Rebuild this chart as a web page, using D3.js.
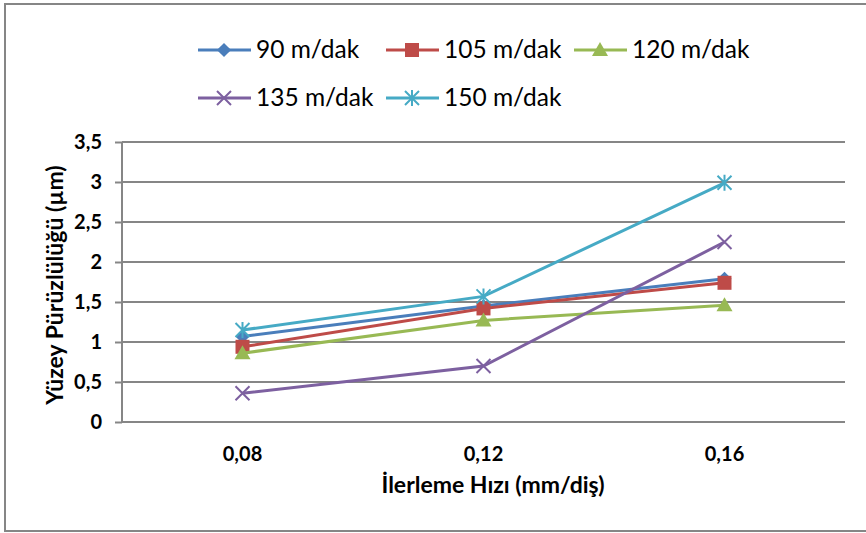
<!DOCTYPE html>
<html>
<head>
<meta charset="utf-8">
<script src="https://cdn.jsdelivr.net/npm/d3@7"></script>
<style>
  body { margin: 0; background: #fff; }
  svg { display: block; font-family: Lato, "Open Sans", sans-serif; }
</style>
</head>
<body>
<svg id="chart" width="866" height="533"></svg>
<script>
// feed rates (x categories)
var categories = ["0,08", "0,12", "0,16"];
var seriesNames = ["90 m/dak", "105 m/dak", "120 m/dak", "135 m/dak", "150 m/dak"];
var s90  = [1.07, 1.45, 1.79];
var s105 = [0.94, 1.42, 1.74];
var s120 = [0.86, 1.27, 1.46];
var s135 = [0.36, 0.70, 2.25];
var s150 = [1.15, 1.57, 2.99];
var yTicks = [0, 0.5, 1, 1.5, 2, 2.5, 3, 3.5];

var colors = ["#4a7ebb", "#be4b48", "#98b954", "#7d60a0", "#46aac5"];
var markers = ["diamond", "square", "triangle", "x", "star"];
var values = [s90, s105, s120, s135, s150];

var svg = d3.select("#chart");

// outer frame
svg.append("rect")
  .attr("x", 5).attr("y", 4).attr("width", 900).attr("height", 527)
  .attr("fill", "none").attr("stroke", "#868686").attr("stroke-width", 2);

var plotL = 122, plotR = 845, plotT = 142, plotB = 422;

var x = d3.scaleBand().domain(categories).range([plotL, plotR]);
var y = d3.scaleLinear().domain([0, 3.5]).range([plotB, plotT]);

// gridlines
svg.append("g")
  .selectAll("line")
  .data(yTicks.slice(1))
  .enter().append("line")
    .attr("x1", plotL).attr("x2", plotR)
    .attr("y1", function(d) { return y(d); })
    .attr("y2", function(d) { return y(d); })
    .attr("stroke", "#868686").attr("stroke-width", 2);

// y axis
var yAxis = svg.append("g")
  .attr("transform", "translate(" + plotL + ",0)")
  .call(d3.axisLeft(y).tickValues(yTicks).tickSize(7).tickPadding(13)
    .tickFormat(function(d) { return String(d).replace(".", ","); }));
yAxis.select(".domain").attr("d", "M0," + plotB + "V" + plotT);
yAxis.selectAll("path, line").attr("stroke", "#868686").attr("stroke-width", 2);
yAxis.selectAll("text").attr("font-size", 20).attr("font-weight", "bold")
  .attr("fill", "#000").attr("font-family", "Lato, sans-serif");

// x axis
var xAxis = svg.append("g")
  .attr("transform", "translate(0," + plotB + ")")
  .call(d3.axisBottom(x).tickSize(0).tickPadding(25));
xAxis.select(".domain").attr("d", "M" + plotL + ",0H" + plotR);
xAxis.selectAll("path").attr("stroke", "#868686").attr("stroke-width", 2);
xAxis.selectAll("text").attr("font-size", 20).attr("font-weight", "bold")
  .attr("fill", "#000").attr("font-family", "Lato, sans-serif");

// axis titles
svg.append("text")
  .attr("x", 493).attr("y", 493)
  .attr("text-anchor", "middle")
  .attr("font-size", 23).attr("font-weight", "bold")
  .text("İlerleme Hızı (mm/diş)");

svg.append("text")
  .attr("transform", "translate(63,285) rotate(-90)")
  .attr("text-anchor", "middle")
  .attr("font-size", 23).attr("font-weight", "bold")
  .text("Yüzey Pürüzlülüğü (µm)");

function drawMarker(g, type, color) {
  if (type == "diamond") {
    g.append("path").attr("d", d3.symbol(d3.symbolSquare, 100)())
      .attr("transform", "rotate(45)").attr("fill", color);
  } else if (type == "square") {
    g.append("path").attr("d", d3.symbol(d3.symbolSquare, 196)()).attr("fill", color);
  } else if (type == "triangle") {
    g.append("path").attr("d", "M0,-8L8,6L-8,6Z").attr("fill", color);
  } else if (type == "x") {
    g.append("path").attr("d", "M-7,-7L7,7M-7,7L7,-7")
      .attr("stroke", color).attr("stroke-width", 2).attr("fill", "none");
  } else {
    g.append("path").attr("d", "M-7,-7L7,7M-7,7L7,-7M0,-8L0,8")
      .attr("stroke", color).attr("stroke-width", 2).attr("fill", "none");
  }
}

var line = d3.line()
  .x(function(d, i) { return x(categories[i]) + x.bandwidth() / 2; })
  .y(function(d) { return y(d); });

values.forEach(function(vals, k) {
  var g = svg.append("g");
  g.append("path")
    .attr("d", line(vals))
    .attr("fill", "none").attr("stroke", colors[k]).attr("stroke-width", 3);
  vals.forEach(function(v, i) {
    var m = g.append("g").attr("transform",
      "translate(" + (x(categories[i]) + x.bandwidth() / 2) + "," + y(v) + ")");
    drawMarker(m, markers[k], colors[k]);
  });
});

// legend
var legendPos = [[198, 50], [386, 50], [574, 50], [198, 98], [386, 98]];
seriesNames.forEach(function(name, k) {
  var lg = svg.append("g")
    .attr("transform", "translate(" + legendPos[k][0] + "," + legendPos[k][1] + ")");
  lg.append("line").attr("x1", 0).attr("x2", 53)
    .attr("stroke", colors[k]).attr("stroke-width", 3);
  drawMarker(lg.append("g").attr("transform", "translate(26,0)"), markers[k], colors[k]);
  lg.append("text").attr("x", 58).attr("y", 8)
    .attr("font-size", 24.5).attr("fill", "#000")
    .text(name);
});
</script>
</body>
</html>
